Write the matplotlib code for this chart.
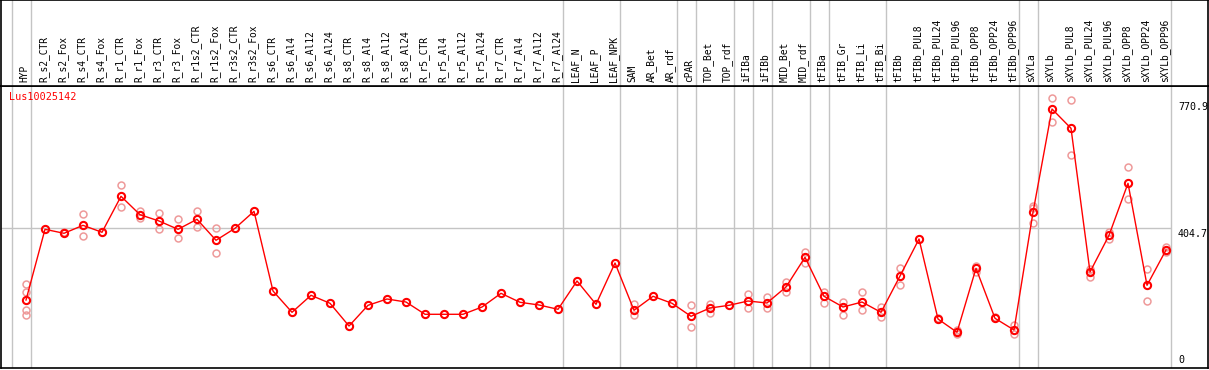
import matplotlib
matplotlib.use('Agg')
import matplotlib.pyplot as plt
import matplotlib.transforms as mtransforms

# Muestras (orden del eje x)
samples = ['HYP', 'R_s2_CTR', 'R_s2_Fox', 'R_s4_CTR', 'R_s4_Fox', 'R_r1_CTR', 'R_r1_Fox',
           'R_r3_CTR', 'R_r3_Fox', 'R_r1s2_CTR', 'R_r1s2_Fox', 'R_r3s2_CTR', 'R_r3s2_Fox',
           'R_s6_CTR', 'R_s6_Al4', 'R_s6_Al12', 'R_s6_Al24', 'R_s8_CTR', 'R_s8_Al4',
           'R_s8_Al12', 'R_s8_Al24', 'R_r5_CTR', 'R_r5_Al4', 'R_r5_Al12', 'R_r5_Al24',
           'R_r7_CTR', 'R_r7_Al4', 'R_r7_Al12', 'R_r7_Al24', 'LEAF_N', 'LEAF_P', 'LEAF_NPK',
           'SAM', 'AR_Bet', 'AR_rdf', 'cPAR', 'TOP_Bet', 'TOP_rdf', 'iFIBa', 'iFIBb',
           'MID_Bet', 'MID_rdf', 'tFIBa', 'tFIB_Gr', 'tFIB_Li', 'tFIB_Bi', 'tFIBb',
           'tFIBb_PUL8', 'tFIBb_PUL24', 'tFIBb_PUL96', 'tFIBb_OPP8', 'tFIBb_OPP24',
           'tFIBb_OPP96', 'sXYLa', 'sXYLb', 'sXYLb_PUL8', 'sXYLb_PUL24', 'sXYLb_PUL96',
           'sXYLb_OPP8', 'sXYLb_OPP24', 'sXYLb_OPP96']

# Valores medios
means = [196.1, 400.0, 388.5, 411.5, 391.4, 495.2, 442.1, 424.0, 400.0, 428.9, 368.3,
         402.9, 451.9, 222.1, 160.6, 209.7, 186.6, 121.1, 180.8, 199.0, 190.3, 154.9,
         154.9, 154.9, 175.9, 215.4, 189.5, 181.7, 169.3, 250.9, 183.7, 302.8, 166.4,
         206.8, 186.6, 149.1, 173.0, 180.8, 193.2, 187.5, 233.6, 319.3, 206.8, 175.9,
         190.3, 160.6, 265.3, 372.0, 141.3, 103.0, 287.5, 143.3, 109.6, 449.0, 747.0,
         691.3, 276.9, 382.7, 532.7, 238.5, 340.3]

# Replicas individuales
reps = [[242.3, 218.3, 167.3, 152.0], [], [393.1], [443.3, 380.7], [], [526.9, 463.5],
        [451.9, 433.5], [446.2, 400.0], [428.9, 374.1], [452.8, 405.8], [402.9, 332.5],
        [], [], [], [], [], [], [], [], [], [], [], [], [], [], [], [], [], [],
        [], [], [], [184.6, 152.9], [], [], [180.8, 118.2], [184.6, 159.5], [],
        [213.4, 173.9], [203.9, 172.2], [248.9, 218.3], [335.4, 303.7], [220.1, 186.6],
        [190.3, 152.0], [219.2, 167.3], [175.1, 146.2], [288.4, 238.5], [], [145.1],
        [98.1, 109.6], [295.0, 277.7], [148.0], [123.1, 98.1],
        [467.2, 460.6, 419.0], [777.8, 710.3], [772.9, 613.4], [285.5, 263.3],
        [392.2, 371.2], [578.8, 487.4], [284.7, 193.2], [349.8, 333.7]]

# Ultima muestra de cada grupo (separadores verticales)
group_ends = [-1, 0, 28, 31, 34, 35, 37, 38, 39, 41, 42, 45, 52, 53, 60]

gene = 'Lus10025142'
grid_value = 404.7
tick_values = [770.9, 404.7, 0]
tick_labels = ['770.9', '404.7', '0']

W, H = 1209, 370
fig = plt.figure(figsize=(W / 100, H / 100), dpi=100)
fig.patch.set_facecolor('white')

mono = 'DejaVu Sans Mono'
gray = '#c4c4c4'

# Ejes principales (zona de datos) y zona de etiquetas arriba
ax = fig.add_axes([1 / W, 2 / H, 1207 / W, 282 / H])
ax_top = fig.add_axes([1 / W, 284 / H, 1207 / W, 86 / H], sharex=ax)

x = list(range(len(samples)))
ax.set_xlim(-1.316, 62.21)
ax.set_ylim(0, 813.3)

for a in (ax, ax_top):
    a.set_xticks([])
    a.set_yticks([])
    for s in a.spines.values():
        s.set_color('black')
        s.set_linewidth(1.2)
    for g in group_ends:
        a.axvline(g + 0.24, color=gray, lw=1, zorder=0)
ax_top.set_ylim(0, 1)

# Linea de referencia, solo hasta el ultimo separador
ax.hlines(grid_value, -1.316, group_ends[-1] + 0.24, color=gray, lw=1, zorder=0)

# Replicas
for i, vals in enumerate(reps):
    if vals:
        ax.plot([i] * len(vals), vals, 'o', ms=5, mfc='none', mec='#ee9a9a', mew=1.1, zorder=2)

# Linea de medias
ax.plot(x, means, '-', color='red', lw=1, zorder=3)
ax.plot(x, means, 'o', ms=5.2, mfc='none', mec='red', mew=1.5, zorder=4)

# Etiquetas de las muestras
for i, name in enumerate(samples):
    ax_top.text(i - 0.08, 4 / 86, name, rotation=90, ha='center', va='bottom',
                fontsize=6.9, family=mono, color='black')

# Etiquetas del eje derecho
down = mtransforms.offset_copy(ax.transData, fig=fig, x=0, y=-1.6, units='dots')
up = mtransforms.offset_copy(ax.transData, fig=fig, x=0, y=3, units='dots')
for v, lab in zip(tick_values, tick_labels):
    if v == 0:
        ax.text(60.63, v, lab, ha='left', va='bottom', fontsize=7.2, family=mono, transform=up)
    else:
        ax.text(60.63, v, lab, ha='left', va='top', fontsize=7.2, family=mono, transform=down)

fig.text(9 / W, 1 - 92 / H, gene, ha='left', va='top', fontsize=7.3, family=mono, color='red')

fig.savefig('out.png', dpi=100)
